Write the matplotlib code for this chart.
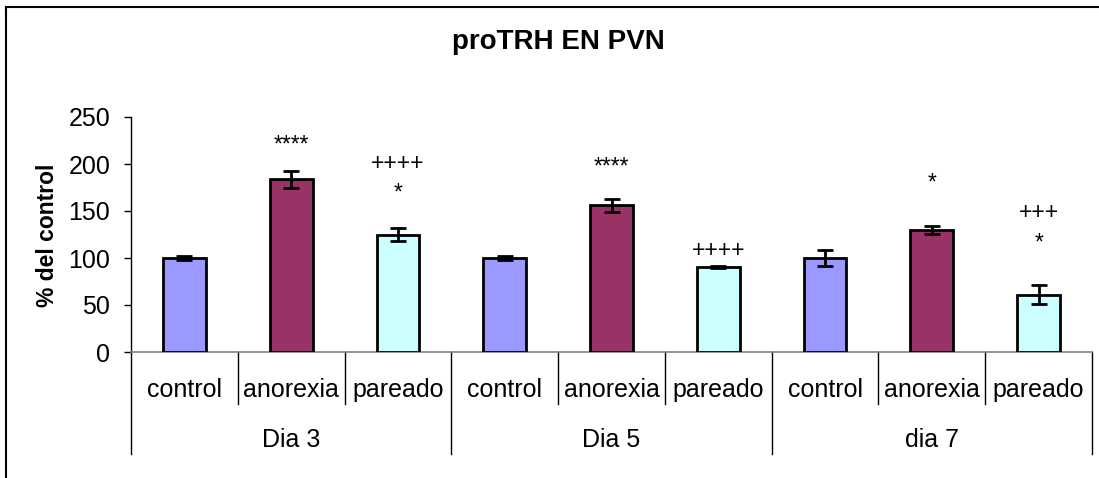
import matplotlib
matplotlib.use("Agg")
import matplotlib.pyplot as plt
from matplotlib.lines import Line2D
import numpy as np

plt.rcParams['font.family'] = ['Liberation Sans', 'DejaVu Sans']

groups = ["Dia 3", "Dia 5", "dia 7"]
categories = ["control", "anorexia", "pareado"]
values = [100, 184, 125, 100, 156, 90, 100, 130, 61]
errors = [2.5, 9, 6.5, 2.5, 7, 1, 8.5, 4, 10]
colors_cat = ["#9999FF", "#993366", "#CCFFFF"]
annotations = [
    (1, "****", 220), (2, "++++", 201), (2, "*", 169),
    (4, "****", 197), (5, "++++", 108),
    (7, "*", 180), (8, "+++", 148), (8, "*", 116),
]
title = "proTRH EN PVN"
ylabel = "% del control"
yticks = [0, 50, 100, 150, 200, 250]

W, H = 1099, 478
fig = plt.figure(figsize=(W / 100, H / 100), dpi=100)
x0, x1 = 131, 1092
y0, y1 = 352, 117
ax = fig.add_axes([x0 / W, 1 - y0 / H, (x1 - x0) / W, (y0 - y1) / H])

n = len(values)
x = np.arange(n)
cols = [colors_cat[i % 3] for i in range(n)]
ax.bar(x, values, width=0.4, color=cols, edgecolor="black", linewidth=2, zorder=3)
ax.errorbar(x, values, yerr=errors, fmt="none", ecolor="black", elinewidth=2,
            capsize=6, capthick=2, zorder=4)

for i, s, yv in annotations:
    ax.text(i, yv, s, ha="center", va="center", fontsize=16.5, zorder=5)

ax.set_xlim(-0.5, n - 0.5)
ax.set_ylim(0, 250)
ax.set_yticks(yticks)
ax.tick_params(axis="y", direction="out", length=5, width=1, labelsize=18, pad=10)
ax.tick_params(axis="x", length=0, labelbottom=False)
for sp in ["top", "right"]:
    ax.spines[sp].set_visible(False)
ax.spines["left"].set_linewidth(1)
ax.spines["bottom"].set_color("#808080")
ax.spines["bottom"].set_linewidth(1.2)

trans = ax.get_xaxis_transform()
axh = y0 - y1
def fy(py):
    return (y0 - py) / axh

for i in range(n):
    ax.text(i, fy(390), categories[i % 3], ha="center", va="center",
            fontsize=18, transform=trans)
for i in range(1, n + 1):
    bottom = fy(454) if i % 3 == 0 else fy(404)
    ax.add_line(Line2D([i - 0.5, i - 0.5], [0, bottom], transform=trans,
                       color="black", lw=1, clip_on=False))
ax.add_line(Line2D([-0.5, -0.5], [0, fy(454)], transform=trans,
                   color="black", lw=1, clip_on=False))
for g, name in enumerate(groups):
    ax.text(3 * g + 1, fy(440), name, ha="center", va="center",
            fontsize=18, transform=trans)

ax.text(-0.5 - 84 / ((x1 - x0) / n), fy(235), ylabel, rotation=90, ha="center", va="center",
        fontsize=16.5, fontweight="bold", transform=trans)

fig.text(558 / W, 1 - 42 / H, title, ha="center", va="center",
         fontsize=20, fontweight="bold")

# outer frame
fig.add_artist(Line2D([6 / W, 6 / W], [0, 1 - 7 / H], transform=fig.transFigure,
                      color="black", lw=1.5))
fig.add_artist(Line2D([6 / W, 1], [1 - 7 / H, 1 - 7 / H], transform=fig.transFigure,
                      color="black", lw=1.5))

fig.savefig("out.png", dpi=100)
